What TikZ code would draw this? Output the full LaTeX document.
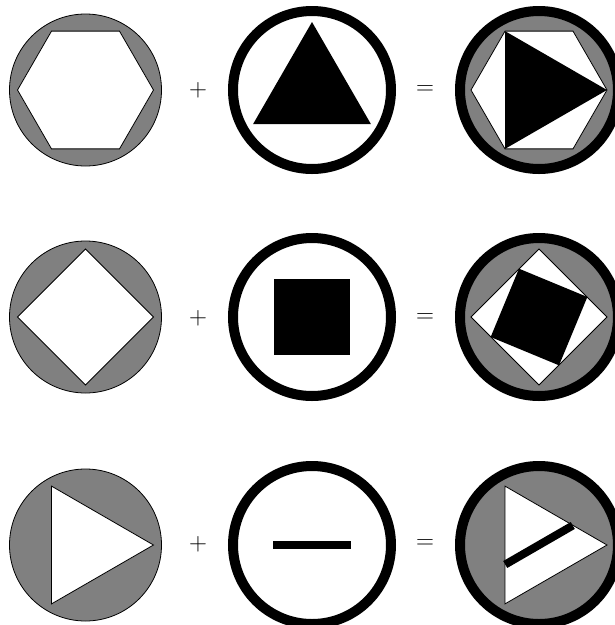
\documentclass[tikz,border=0pt]{standalone}
\usepackage{tikz}
\begin{document}
\begin{tikzpicture}[x=1pt,y=-1pt,
 disc/.style={draw,line width=0.8pt,fill=gray},
 hole/.style={draw,line width=0.8pt,fill=white},
 ring/.style={draw,line width=10pt},
 piece/.style={fill=black},
 bar/.style={draw,line width=8pt},
 op/.style={font=\fontsize{27}{30}\selectfont,inner sep=0pt}]
\clip (0,0) rectangle (615,625);
% centres of the three columns in each row
\coordinate (a1) at (85.5,90);  \coordinate (b1) at (312,90);  \coordinate (c1) at (539,90);
\coordinate (a2) at (85.5,317); \coordinate (b2) at (312,317); \coordinate (c2) at (539,317);
\coordinate (a3) at (85.5,545); \coordinate (b3) at (312,545); \coordinate (c3) at (539,545);

% row 1: hexagon + triangle = both
\draw[disc] (a1) circle[radius=76pt];
\draw[hole,shift={(a1)}] (0:68)--(60:68)--(120:68)--(180:68)--(240:68)--(300:68)--cycle;
\node[op] (plus1) at (198,90) {$+$};
\draw[ring] (b1) circle[radius=79pt];
\fill[piece,shift={(b1)}] (-90:68)--(30:68)--(150:68)--cycle;
\node[op] (eq1) at (425,90) {$=$};
\draw[disc] (c1) circle[radius=76pt];
\draw[hole,shift={(c1)}] (0:68)--(60:68)--(120:68)--(180:68)--(240:68)--(300:68)--cycle;
\fill[piece,shift={(c1)}] (0:68)--(120:68)--(240:68)--cycle;
\draw[ring] (c1) circle[radius=79pt];

% row 2: diamond + square = both
\draw[disc] (a2) circle[radius=76pt];
\draw[hole,shift={(a2)}] (0:68)--(90:68)--(180:68)--(270:68)--cycle;
\node[op] (plus2) at (198,318) {$+$};
\draw[ring] (b2) circle[radius=79pt];
\fill[piece,shift={(b2)}] (-38,-38) rectangle (38,38);
\node[op] (eq2) at (425,318) {$=$};
\draw[disc] (c2) circle[radius=76pt];
\draw[hole,shift={(c2)}] (0:68)--(90:68)--(180:68)--(270:68)--cycle;
\fill[piece,shift={(c2)},rotate=-22.5] (-37,-37) rectangle (37,37);
\draw[ring] (c2) circle[radius=79pt];

% row 3: triangle + bar = both
\draw[disc] (a3) circle[radius=76pt];
\draw[hole,shift={(a3)}] (0:68)--(120:68)--(240:68)--cycle;
\node[op] (plus3) at (198,544) {$+$};
\draw[ring] (b3) circle[radius=79pt];
\draw[bar,shift={(b3)}] (-39,0)--(39,0);
\node[op] (eq3) at (425,544) {$=$};
\draw[disc] (c3) circle[radius=76pt];
\draw[hole,shift={(c3)}] (0:68)--(120:68)--(240:68)--cycle;
\draw[bar,shift={(c3)}] (150:39)--(-30:39);
\draw[ring] (c3) circle[radius=79pt];
\end{tikzpicture}
\end{document}
